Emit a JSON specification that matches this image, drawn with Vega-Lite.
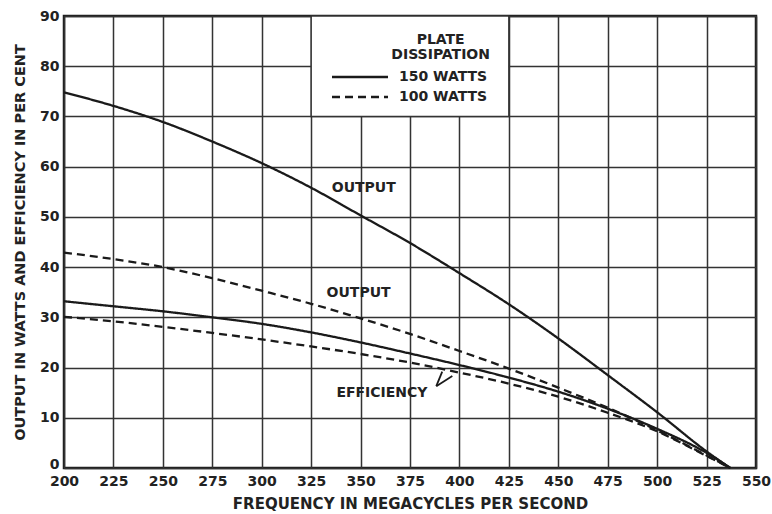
{
  "$schema": "https://vega.github.io/schema/vega-lite/v6.json",
  "width": 692,
  "height": 452,
  "autosize": {"type": "none"},
  "padding": {"left": 64, "top": 16, "right": 16, "bottom": 46},
  "background": "white",
  "config": {
    "font": "DejaVu Sans",
    "view": {"stroke": "#1e1e1e", "strokeWidth": 2.5},
    "axis": {
      "labelFont": "DejaVu Sans", "labelFontWeight": "bold", "labelFontSize": 14, "labelColor": "#222",
      "titleFont": "DejaVu Sans", "titleFontWeight": "bold", "titleFontSize": 14.5, "titleColor": "#222",
      "grid": true, "gridColor": "#333", "gridWidth": 1.5, "gridOpacity": 1,
      "domain": false, "ticks": false, "labelFlush": false, "labelOverlap": false
    }
  },
  "datasets": {
    "curves": [
      {"f": 200, "v": 74.8, "plate": "150 WATTS", "curve": "OUTPUT"},
      {"f": 225, "v": 72.1, "plate": "150 WATTS", "curve": "OUTPUT"},
      {"f": 250, "v": 68.9, "plate": "150 WATTS", "curve": "OUTPUT"},
      {"f": 275, "v": 65.0, "plate": "150 WATTS", "curve": "OUTPUT"},
      {"f": 300, "v": 60.7, "plate": "150 WATTS", "curve": "OUTPUT"},
      {"f": 325, "v": 55.8, "plate": "150 WATTS", "curve": "OUTPUT"},
      {"f": 350, "v": 50.3, "plate": "150 WATTS", "curve": "OUTPUT"},
      {"f": 375, "v": 44.8, "plate": "150 WATTS", "curve": "OUTPUT"},
      {"f": 400, "v": 38.8, "plate": "150 WATTS", "curve": "OUTPUT"},
      {"f": 425, "v": 32.6, "plate": "150 WATTS", "curve": "OUTPUT"},
      {"f": 450, "v": 25.8, "plate": "150 WATTS", "curve": "OUTPUT"},
      {"f": 475, "v": 18.5, "plate": "150 WATTS", "curve": "OUTPUT"},
      {"f": 500, "v": 11.1, "plate": "150 WATTS", "curve": "OUTPUT"},
      {"f": 525, "v": 3.3, "plate": "150 WATTS", "curve": "OUTPUT"},
      {"f": 537, "v": 0, "plate": "150 WATTS", "curve": "OUTPUT"},
      {"f": 200, "v": 33.2, "plate": "150 WATTS", "curve": "EFFICIENCY"},
      {"f": 225, "v": 32.2, "plate": "150 WATTS", "curve": "EFFICIENCY"},
      {"f": 250, "v": 31.2, "plate": "150 WATTS", "curve": "EFFICIENCY"},
      {"f": 275, "v": 30.0, "plate": "150 WATTS", "curve": "EFFICIENCY"},
      {"f": 300, "v": 28.7, "plate": "150 WATTS", "curve": "EFFICIENCY"},
      {"f": 325, "v": 27.0, "plate": "150 WATTS", "curve": "EFFICIENCY"},
      {"f": 350, "v": 25.0, "plate": "150 WATTS", "curve": "EFFICIENCY"},
      {"f": 375, "v": 22.8, "plate": "150 WATTS", "curve": "EFFICIENCY"},
      {"f": 400, "v": 20.5, "plate": "150 WATTS", "curve": "EFFICIENCY"},
      {"f": 425, "v": 18.0, "plate": "150 WATTS", "curve": "EFFICIENCY"},
      {"f": 450, "v": 15.2, "plate": "150 WATTS", "curve": "EFFICIENCY"},
      {"f": 475, "v": 11.8, "plate": "150 WATTS", "curve": "EFFICIENCY"},
      {"f": 500, "v": 7.8, "plate": "150 WATTS", "curve": "EFFICIENCY"},
      {"f": 525, "v": 3.0, "plate": "150 WATTS", "curve": "EFFICIENCY"},
      {"f": 537, "v": 0, "plate": "150 WATTS", "curve": "EFFICIENCY"},
      {"f": 200, "v": 42.9, "plate": "100 WATTS", "curve": "OUTPUT"},
      {"f": 225, "v": 41.6, "plate": "100 WATTS", "curve": "OUTPUT"},
      {"f": 250, "v": 40.0, "plate": "100 WATTS", "curve": "OUTPUT"},
      {"f": 275, "v": 37.8, "plate": "100 WATTS", "curve": "OUTPUT"},
      {"f": 300, "v": 35.3, "plate": "100 WATTS", "curve": "OUTPUT"},
      {"f": 325, "v": 32.7, "plate": "100 WATTS", "curve": "OUTPUT"},
      {"f": 350, "v": 29.8, "plate": "100 WATTS", "curve": "OUTPUT"},
      {"f": 375, "v": 26.7, "plate": "100 WATTS", "curve": "OUTPUT"},
      {"f": 400, "v": 23.3, "plate": "100 WATTS", "curve": "OUTPUT"},
      {"f": 425, "v": 19.8, "plate": "100 WATTS", "curve": "OUTPUT"},
      {"f": 450, "v": 16.0, "plate": "100 WATTS", "curve": "OUTPUT"},
      {"f": 475, "v": 12.0, "plate": "100 WATTS", "curve": "OUTPUT"},
      {"f": 500, "v": 7.5, "plate": "100 WATTS", "curve": "OUTPUT"},
      {"f": 525, "v": 2.5, "plate": "100 WATTS", "curve": "OUTPUT"},
      {"f": 537, "v": 0, "plate": "100 WATTS", "curve": "OUTPUT"},
      {"f": 200, "v": 30.1, "plate": "100 WATTS", "curve": "EFFICIENCY"},
      {"f": 225, "v": 29.2, "plate": "100 WATTS", "curve": "EFFICIENCY"},
      {"f": 250, "v": 28.1, "plate": "100 WATTS", "curve": "EFFICIENCY"},
      {"f": 275, "v": 26.9, "plate": "100 WATTS", "curve": "EFFICIENCY"},
      {"f": 300, "v": 25.6, "plate": "100 WATTS", "curve": "EFFICIENCY"},
      {"f": 325, "v": 24.2, "plate": "100 WATTS", "curve": "EFFICIENCY"},
      {"f": 350, "v": 22.7, "plate": "100 WATTS", "curve": "EFFICIENCY"},
      {"f": 375, "v": 21.0, "plate": "100 WATTS", "curve": "EFFICIENCY"},
      {"f": 400, "v": 19.0, "plate": "100 WATTS", "curve": "EFFICIENCY"},
      {"f": 425, "v": 16.8, "plate": "100 WATTS", "curve": "EFFICIENCY"},
      {"f": 450, "v": 14.2, "plate": "100 WATTS", "curve": "EFFICIENCY"},
      {"f": 475, "v": 11.0, "plate": "100 WATTS", "curve": "EFFICIENCY"},
      {"f": 500, "v": 7.3, "plate": "100 WATTS", "curve": "EFFICIENCY"},
      {"f": 525, "v": 2.4, "plate": "100 WATTS", "curve": "EFFICIENCY"},
      {"f": 537, "v": 0, "plate": "100 WATTS", "curve": "EFFICIENCY"}
    ],
    "labels": [
      {"t": "OUTPUT", "x": 351.6, "y": 55.8},
      {"t": "OUTPUT", "x": 349, "y": 34.8},
      {"t": "EFFICIENCY", "x": 360.8, "y": 14.9},
      {"t": "PLATE", "x": 390.5, "y": 85.3},
      {"t": "DISSIPATION", "x": 390.5, "y": 82.3}
    ],
    "box": [{"x": 325, "x2": 425, "y": 70, "y2": 90}],
    "arrows": [
      {"x": 388.3, "y": 16.3, "x2": 391.3, "y2": 19.2},
      {"x": 388.3, "y": 16.3, "x2": 396.4, "y2": 18.3}
    ]
  },
  "layer": [
    {
      "data": {"name": "box"},
      "mark": {"type": "rect", "fill": "white", "stroke": "#333", "strokeWidth": 1.5},
      "encoding": {
        "x": {"field": "x", "type": "quantitative", "scale": {"domain": [200, 550], "nice": false, "zero": false},
              "axis": {"values": [200,225,250,275,300,325,350,375,400,425,450,475,500,525,550], "title": "FREQUENCY IN MEGACYCLES PER SECOND", "titleFontSize": 15, "labelPadding": 6, "titlePadding": 8}},
        "x2": {"field": "x2"},
        "y": {"field": "y", "type": "quantitative", "scale": {"domain": [0, 90], "nice": false},
              "axis": {"values": [0,10,20,30,40,50,60,70,80,90], "title": "OUTPUT IN WATTS AND EFFICIENCY IN PER CENT", "labelPadding": 5, "titlePadding": 12,
                       "labelBaseline": {"condition": {"test": "datum.value === 0", "value": "alphabetic"}, "value": "middle"}}},
        "y2": {"field": "y2"}
      }
    },
    {
      "data": {"name": "curves"},
      "mark": {"type": "line", "interpolate": "monotone", "strokeWidth": 2.3, "color": "#1a1a1a"},
      "encoding": {
        "x": {"field": "f", "type": "quantitative"},
        "y": {"field": "v", "type": "quantitative"},
        "detail": {"field": "curve"},
        "strokeDash": {
          "field": "plate", "type": "nominal",
          "scale": {"domain": ["150 WATTS", "100 WATTS"], "range": [[1, 0], [8, 5]]},
          "legend": {
            "title": null, "orient": "none", "legendX": 266, "legendY": 54,
            "padding": 0, "symbolType": "M-1,0H10.2", "symbolSize": 100,
            "symbolStrokeColor": "#1a1a1a", "symbolStrokeWidth": 2.3,
            "labelFont": "DejaVu Sans", "labelFontWeight": "bold", "labelFontSize": 14, "labelColor": "#222",
            "labelOffset": 55, "rowPadding": 6
          }
        }
      }
    },
    {
      "data": {"name": "arrows"},
      "mark": {"type": "rule", "strokeWidth": 1.8, "color": "#1a1a1a"},
      "encoding": {
        "x": {"field": "x", "type": "quantitative"},
        "y": {"field": "y", "type": "quantitative"},
        "x2": {"field": "x2"},
        "y2": {"field": "y2"}
      }
    },
    {
      "data": {"name": "labels"},
      "mark": {"type": "text", "font": "DejaVu Sans", "fontWeight": "bold", "fontSize": 14, "color": "#222", "align": "center", "baseline": "middle"},
      "encoding": {
        "x": {"field": "x", "type": "quantitative"},
        "y": {"field": "y", "type": "quantitative"},
        "text": {"field": "t"}
      }
    }
  ]
}
